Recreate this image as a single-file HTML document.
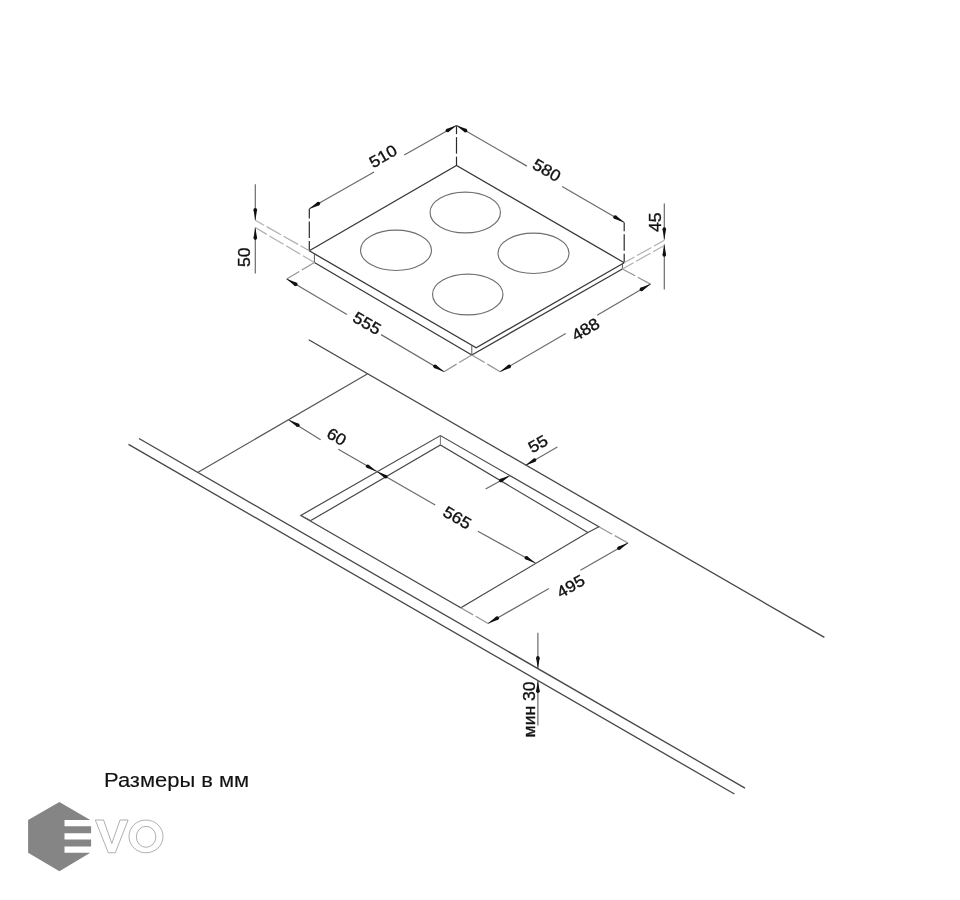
<!DOCTYPE html>
<html><head><meta charset="utf-8"><style>
html,body{margin:0;padding:0;background:#fff;}
body{width:960px;height:900px;overflow:hidden;position:relative;font-family:"Liberation Sans",sans-serif;}
svg{position:absolute;left:0;top:0;will-change:transform;}
svg text{font-family:"Liberation Sans",sans-serif;}
.cap{position:absolute;left:104px;top:767.5px;font-size:20.5px;line-height:24px;color:#111;white-space:nowrap;-webkit-text-stroke:0.15px #111;transform-origin:0 0;transform:scaleX(1.07);will-change:transform;}
</style></head><body>
<svg width="960" height="900" viewBox="0 0 960 900">
<polyline points="309.3,250.8 456.5,165.4 624.2,262.7" fill="none" stroke="#383838" stroke-width="1.3" stroke-linejoin="miter"/>
<polyline points="309.3,250.8 476.2,347.7 624.2,262.7" fill="none" stroke="#383838" stroke-width="1.3" stroke-linejoin="miter"/>
<line x1="314.4" y1="253.7" x2="314.4" y2="262.5" stroke="#555" stroke-width="1.0"/>
<line x1="314.4" y1="262.5" x2="471.8" y2="355" stroke="#383838" stroke-width="1.3"/>
<line x1="471.8" y1="345.2" x2="471.8" y2="355" stroke="#555" stroke-width="1.0"/>
<line x1="471.8" y1="355" x2="622.4" y2="269" stroke="#383838" stroke-width="1.3"/>
<line x1="622.4" y1="263.7" x2="622.4" y2="269" stroke="#555" stroke-width="1.0"/>
<ellipse cx="465.25" cy="212.5" rx="35.2" ry="20.4" fill="none" stroke="#707070" stroke-width="1.15"/>
<ellipse cx="396" cy="250.25" rx="35.5" ry="20.2" fill="none" stroke="#707070" stroke-width="1.15"/>
<ellipse cx="533.5" cy="253.25" rx="35.5" ry="20.2" fill="none" stroke="#707070" stroke-width="1.15"/>
<ellipse cx="467.75" cy="294.5" rx="35.2" ry="20.4" fill="none" stroke="#707070" stroke-width="1.15"/>
<line x1="456.5" y1="125.4" x2="456.5" y2="134.15" stroke="#2a2a2a" stroke-width="1.2"/>
<line x1="456.5" y1="137.15" x2="456.5" y2="153.65" stroke="#2a2a2a" stroke-width="1.2"/>
<line x1="456.5" y1="156.65" x2="456.5" y2="165.4" stroke="#2a2a2a" stroke-width="1.2"/>
<line x1="309.3" y1="208.75" x2="309.3" y2="218.53" stroke="#2a2a2a" stroke-width="1.2"/>
<line x1="309.3" y1="221.53" x2="309.3" y2="238.03" stroke="#2a2a2a" stroke-width="1.2"/>
<line x1="309.3" y1="241.03" x2="309.3" y2="250.8" stroke="#2a2a2a" stroke-width="1.2"/>
<line x1="624.2" y1="222.4" x2="624.2" y2="231.3" stroke="#2a2a2a" stroke-width="1.2"/>
<line x1="624.2" y1="234.3" x2="624.2" y2="250.8" stroke="#2a2a2a" stroke-width="1.2"/>
<line x1="624.2" y1="253.8" x2="624.2" y2="262.7" stroke="#2a2a2a" stroke-width="1.2"/>
<line x1="309.3" y1="208.75" x2="374.07" y2="172.08" stroke="#6a6a6a" stroke-width="1.2"/>
<line x1="404.24" y1="154.99" x2="456.5" y2="125.4" stroke="#6a6a6a" stroke-width="1.2"/>
<polygon points="456.76,125.25 448.25,132.14 446.48,129.01" fill="#111"/>
<circle cx="447.36" cy="130.57" r="1.8" fill="#111"/>
<polygon points="309.04,208.9 317.55,202.01 319.32,205.14" fill="#111"/>
<circle cx="318.44" cy="203.58" r="1.8" fill="#111"/>
<line x1="456.5" y1="125.4" x2="526.93" y2="166.14" stroke="#6a6a6a" stroke-width="1.2"/>
<line x1="562.15" y1="186.51" x2="624.2" y2="222.4" stroke="#6a6a6a" stroke-width="1.2"/>
<polygon points="456.24,125.25 466.49,129.1 464.69,132.22" fill="#111"/>
<circle cx="465.59" cy="130.66" r="1.8" fill="#111"/>
<polygon points="624.46,222.55 614.21,218.7 616.01,215.58" fill="#111"/>
<circle cx="615.11" cy="217.14" r="1.8" fill="#111"/>
<text x="0" y="0" transform="translate(383.2 156.5) rotate(-30) scale(1.085 1)" font-size="16.2" fill="#111" stroke="#111" stroke-width="0.35" text-anchor="middle" dominant-baseline="central">510</text>
<text x="0" y="0" transform="translate(546.6 170.5) rotate(30) scale(1.085 1)" font-size="16.2" fill="#111" stroke="#111" stroke-width="0.35" text-anchor="middle" dominant-baseline="central">580</text>
<line x1="255.3" y1="184.2" x2="255.3" y2="220.2" stroke="#6a6a6a" stroke-width="1.2"/>
<polygon points="255.3,220.5 253.5,209.7 257.1,209.7" fill="#111"/>
<circle cx="255.3" cy="209.7" r="1.8" fill="#111"/>
<line x1="255.3" y1="227.6" x2="255.3" y2="273.4" stroke="#6a6a6a" stroke-width="1.2"/>
<polygon points="255.3,227.3 257.1,238.1 253.5,238.1" fill="#111"/>
<circle cx="255.3" cy="238.1" r="1.8" fill="#111"/>
<line x1="255.3" y1="220.2" x2="264.03" y2="225.15" stroke="#b0b0b0" stroke-width="1.2"/>
<line x1="266.64" y1="226.63" x2="280.99" y2="234.76" stroke="#b0b0b0" stroke-width="1.2"/>
<line x1="283.61" y1="236.24" x2="297.96" y2="244.37" stroke="#b0b0b0" stroke-width="1.2"/>
<line x1="300.57" y1="245.85" x2="309.3" y2="250.8" stroke="#b0b0b0" stroke-width="1.2"/>
<line x1="255.3" y1="227.6" x2="266.77" y2="234.37" stroke="#b0b0b0" stroke-width="1.2"/>
<line x1="269.35" y1="235.9" x2="283.56" y2="244.29" stroke="#b0b0b0" stroke-width="1.2"/>
<line x1="286.14" y1="245.81" x2="300.35" y2="254.2" stroke="#b0b0b0" stroke-width="1.2"/>
<line x1="302.93" y1="255.73" x2="314.4" y2="262.5" stroke="#b0b0b0" stroke-width="1.2"/>
<text x="0" y="0" transform="translate(244.4 257.2) rotate(-90) scale(1.085 1)" font-size="16.2" fill="#111" stroke="#111" stroke-width="0.35" text-anchor="middle" dominant-baseline="central">50</text>
<line x1="664.3" y1="203.4" x2="664.3" y2="239.5" stroke="#6a6a6a" stroke-width="1.2"/>
<polygon points="664.3,239.8 662.5,229 666.1,229" fill="#111"/>
<circle cx="664.3" cy="229" r="1.8" fill="#111"/>
<line x1="664.3" y1="244.4" x2="664.3" y2="289.6" stroke="#6a6a6a" stroke-width="1.2"/>
<polygon points="664.3,244.1 666.1,254.9 662.5,254.9" fill="#111"/>
<circle cx="664.3" cy="254.9" r="1.8" fill="#111"/>
<line x1="624.2" y1="262.7" x2="634.44" y2="256.95" stroke="#b0b0b0" stroke-width="1.2"/>
<line x1="637.06" y1="255.49" x2="651.44" y2="247.41" stroke="#b0b0b0" stroke-width="1.2"/>
<line x1="654.06" y1="245.95" x2="664.3" y2="240.2" stroke="#b0b0b0" stroke-width="1.2"/>
<line x1="622.4" y1="269" x2="633.55" y2="262.72" stroke="#b0b0b0" stroke-width="1.2"/>
<line x1="636.16" y1="261.25" x2="650.54" y2="253.15" stroke="#b0b0b0" stroke-width="1.2"/>
<line x1="653.15" y1="251.68" x2="664.3" y2="245.4" stroke="#b0b0b0" stroke-width="1.2"/>
<text x="0" y="0" transform="translate(655.6 222.3) rotate(-90) scale(1.085 1)" font-size="16.2" fill="#111" stroke="#111" stroke-width="0.35" text-anchor="middle" dominant-baseline="central">45</text>
<line x1="314.4" y1="262.5" x2="301.84" y2="269.98" stroke="#959595" stroke-width="1.2"/>
<line x1="299.26" y1="271.52" x2="286.7" y2="279" stroke="#959595" stroke-width="1.2"/>
<line x1="471.8" y1="355" x2="459.19" y2="362.58" stroke="#959595" stroke-width="1.2"/>
<line x1="456.61" y1="364.12" x2="444" y2="371.7" stroke="#959595" stroke-width="1.2"/>
<line x1="471.8" y1="355" x2="484.71" y2="362.59" stroke="#959595" stroke-width="1.2"/>
<line x1="487.29" y1="364.11" x2="500.2" y2="371.7" stroke="#959595" stroke-width="1.2"/>
<line x1="622.4" y1="269" x2="635.13" y2="275.84" stroke="#959595" stroke-width="1.2"/>
<line x1="637.77" y1="277.26" x2="650.5" y2="284.1" stroke="#959595" stroke-width="1.2"/>
<line x1="286.7" y1="279" x2="346.95" y2="314.5" stroke="#6a6a6a" stroke-width="1.2"/>
<line x1="381.08" y1="334.62" x2="444" y2="371.7" stroke="#6a6a6a" stroke-width="1.2"/>
<polygon points="286.44,278.85 296.66,282.78 294.83,285.88" fill="#111"/>
<circle cx="295.75" cy="284.33" r="1.8" fill="#111"/>
<polygon points="444.26,371.85 434.04,367.92 435.87,364.82" fill="#111"/>
<circle cx="434.95" cy="366.37" r="1.8" fill="#111"/>
<line x1="500.2" y1="371.7" x2="565.73" y2="333.51" stroke="#6a6a6a" stroke-width="1.2"/>
<line x1="597.14" y1="315.2" x2="650.5" y2="284.1" stroke="#6a6a6a" stroke-width="1.2"/>
<polygon points="499.94,371.85 508.37,364.86 510.18,367.97" fill="#111"/>
<circle cx="509.27" cy="366.41" r="1.8" fill="#111"/>
<polygon points="650.76,283.95 642.33,290.94 640.52,287.83" fill="#111"/>
<circle cx="641.43" cy="289.39" r="1.8" fill="#111"/>
<text x="0" y="0" transform="translate(366.9 323.6) rotate(30) scale(1.085 1)" font-size="16.2" fill="#111" stroke="#111" stroke-width="0.35" text-anchor="middle" dominant-baseline="central">555</text>
<text x="0" y="0" transform="translate(585.7 329.6) rotate(-30) scale(1.085 1)" font-size="16.2" fill="#111" stroke="#111" stroke-width="0.35" text-anchor="middle" dominant-baseline="central">488</text>
<line x1="308.75" y1="339.75" x2="824.4" y2="637.4" stroke="#474747" stroke-width="1.3"/>
<line x1="139" y1="438.5" x2="745" y2="788.1" stroke="#474747" stroke-width="1.3"/>
<line x1="128.5" y1="444.4" x2="734.4" y2="794" stroke="#474747" stroke-width="1.3"/>
<line x1="198.1" y1="472.25" x2="367.25" y2="374" stroke="#555" stroke-width="1.2"/>
<polygon points="300.8,515.4 440.4,435.6 598.9,526.8 587.9,532.5 460.8,607.8 300.8,515.4" fill="none" stroke="#474747" stroke-width="1.2" stroke-linejoin="miter"/>
<polyline points="310.8,520.6 440.4,445 587.9,532.5" fill="none" stroke="#474747" stroke-width="1.2" stroke-linejoin="miter"/>
<line x1="440.4" y1="435.6" x2="440.4" y2="445" stroke="#777" stroke-width="1.0"/>
<line x1="300.8" y1="515.4" x2="310.8" y2="520.6" stroke="#555" stroke-width="1.0"/>
<line x1="288.75" y1="420" x2="320.6" y2="439.8" stroke="#6a6a6a" stroke-width="1.2"/>
<line x1="338.3" y1="449.2" x2="435.2" y2="505" stroke="#6a6a6a" stroke-width="1.2"/>
<line x1="477.9" y1="531.2" x2="535.4" y2="563" stroke="#6a6a6a" stroke-width="1.2"/>
<polygon points="288.49,419.85 298.72,423.75 296.9,426.86" fill="#111"/>
<circle cx="297.81" cy="425.31" r="1.8" fill="#111"/>
<polygon points="376.96,471.65 366.73,467.75 368.55,464.64" fill="#111"/>
<circle cx="367.64" cy="466.19" r="1.8" fill="#111"/>
<polygon points="376.44,471.35 386.7,475.19 384.9,478.3" fill="#111"/>
<circle cx="385.8" cy="476.74" r="1.8" fill="#111"/>
<polygon points="535.66,563.15 525.4,559.31 527.2,556.2" fill="#111"/>
<circle cx="526.3" cy="557.76" r="1.8" fill="#111"/>
<text x="0" y="0" transform="translate(336.5 437) rotate(30) scale(1.085 1)" font-size="16.2" fill="#111" stroke="#111" stroke-width="0.35" text-anchor="middle" dominant-baseline="central">60</text>
<text x="0" y="0" transform="translate(457.1 518) rotate(30) scale(1.085 1)" font-size="16.2" fill="#111" stroke="#111" stroke-width="0.35" text-anchor="middle" dominant-baseline="central">565</text>
<line x1="557.3" y1="446.9" x2="525.5" y2="465.4" stroke="#6a6a6a" stroke-width="1.2"/>
<polygon points="525.24,465.55 533.67,458.56 535.48,461.68" fill="#111"/>
<circle cx="534.58" cy="460.12" r="1.8" fill="#111"/>
<line x1="485.6" y1="489" x2="510" y2="475.5" stroke="#6a6a6a" stroke-width="1.2"/>
<polygon points="510.26,475.35 501.68,482.16 499.94,479.01" fill="#111"/>
<circle cx="500.81" cy="480.58" r="1.8" fill="#111"/>
<text x="0" y="0" transform="translate(538.1 444.1) rotate(-30) scale(1.085 1)" font-size="16.2" fill="#111" stroke="#111" stroke-width="0.35" text-anchor="middle" dominant-baseline="central">55</text>
<line x1="598.9" y1="526.8" x2="612.14" y2="534.17" stroke="#959595" stroke-width="1.2"/>
<line x1="614.76" y1="535.63" x2="628" y2="543" stroke="#959595" stroke-width="1.2"/>
<line x1="460.8" y1="607.8" x2="473.15" y2="614.86" stroke="#959595" stroke-width="1.2"/>
<line x1="475.75" y1="616.34" x2="488.1" y2="623.4" stroke="#959595" stroke-width="1.2"/>
<line x1="488.1" y1="623.4" x2="548.96" y2="588.43" stroke="#6a6a6a" stroke-width="1.2"/>
<line x1="580.43" y1="570.34" x2="628" y2="543" stroke="#6a6a6a" stroke-width="1.2"/>
<polygon points="628.26,542.85 619.79,549.79 618,546.67" fill="#111"/>
<circle cx="618.9" cy="548.23" r="1.8" fill="#111"/>
<polygon points="487.84,623.55 496.31,616.61 498.1,619.73" fill="#111"/>
<circle cx="497.2" cy="618.17" r="1.8" fill="#111"/>
<text x="0" y="0" transform="translate(570.8 586.5) rotate(-30) scale(1.085 1)" font-size="16.2" fill="#111" stroke="#111" stroke-width="0.35" text-anchor="middle" dominant-baseline="central">495</text>
<line x1="537.9" y1="632.7" x2="537.9" y2="668.4" stroke="#6a6a6a" stroke-width="1.2"/>
<polygon points="537.9,668.7 536.1,657.9 539.7,657.9" fill="#111"/>
<circle cx="537.9" cy="657.9" r="1.8" fill="#111"/>
<line x1="537.9" y1="680.7" x2="537.9" y2="725.5" stroke="#6a6a6a" stroke-width="1.2"/>
<polygon points="537.9,680.4 539.7,691.2 536.1,691.2" fill="#111"/>
<circle cx="537.9" cy="691.2" r="1.8" fill="#111"/>
<text x="0" y="0" transform="translate(529.6 709.4) rotate(-90) scale(1.085 1)" font-size="16.2" fill="#111" stroke="#111" stroke-width="0.35" text-anchor="middle" dominant-baseline="central">мин 30</text>
<!-- logo -->
<g>
<polygon points="59.4,802 90.3,820 64.5,820 64.5,826.25 91.1,826.25 91.1,833.3 64.5,833.3 64.5,839.5 91.1,839.5 91.1,846.6 64.5,846.6 64.5,852.8 90.3,852.8 59.4,871.25 28.1,852.8 28.1,820" fill="#858585"/>
<polygon points="95.3,820 103.6,820 111.8,843.5 120,820 128.1,820 115.3,852.8 108.3,852.8" fill="#fff" stroke="#9a9a9a" stroke-width="0.8"/>
<ellipse cx="146" cy="836.4" rx="17" ry="16.4" fill="none" stroke="#9a9a9a" stroke-width="0.8"/>
<ellipse cx="146.1" cy="836.8" rx="9.75" ry="10.5" fill="none" stroke="#9a9a9a" stroke-width="0.8"/>
</g>
</svg>
<div class="cap">Размеры в мм</div>
</body></html>
